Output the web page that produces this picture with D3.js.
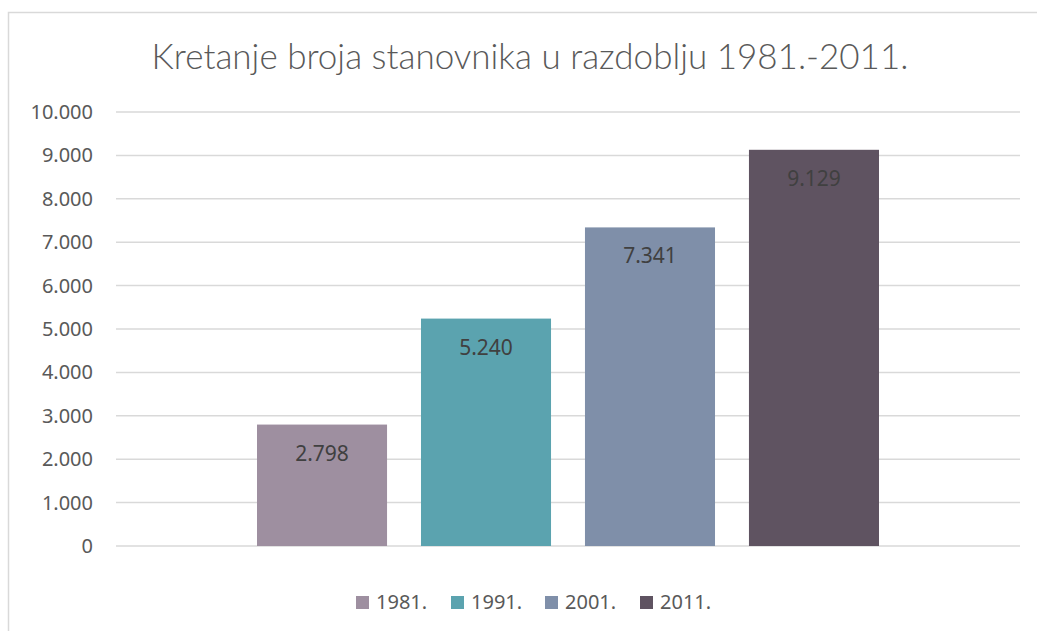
<!DOCTYPE html>
<html>
<head>
<meta charset="utf-8">
<script src="https://cdn.jsdelivr.net/npm/d3@7"></script>
<style>
  body { margin: 0; background: #fff; }
  text { font-family: "Noto Sans", sans-serif; }
</style>
</head>
<body>
<script>
// data
var years = ["1981.", "1991.", "2001.", "2011."];
var population = [2798, 5240, 7341, 9129];
var colors = ["#9e8fa0", "#5ba3af", "#7f8fa9", "#5f5361"];
var yTicks = [0, 1000, 2000, 3000, 4000, 5000, 6000, 7000, 8000, 9000, 10000];

var width = 1037, height = 631;
var margin = {left: 116, right: 17, top: 112, bottom: 85};
var plotW = width - margin.left - margin.right;
var plotH = height - margin.top - margin.bottom;

var fmt = function(v) { return d3.format(",")(v).replace(/,/g, "."); };

var svg = d3.select("body").append("svg")
    .attr("width", width)
    .attr("height", height);

// chart border (cut off at right and bottom)
svg.append("rect")
    .attr("x", 8.5).attr("y", 12.5)
    .attr("width", 1100).attr("height", 700)
    .attr("fill", "none")
    .attr("stroke", "#d9d9d9")
    .attr("stroke-width", 1.5);

// title
svg.append("text")
    .attr("x", 530)
    .attr("y", 69)
    .attr("text-anchor", "middle")
    .style("font-family", "Lato, sans-serif")
    .style("font-weight", 300)
    .style("font-size", "35px")
    .attr("fill", "#595959")
    .text("Kretanje broja stanovnika u razdoblju 1981.-2011.");

var g = svg.append("g")
    .attr("transform", "translate(" + margin.left + "," + margin.top + ")");

var y = d3.scaleLinear().domain([0, 10000]).range([plotH, 0]);

// one category, four series inside it
var x0 = d3.scaleBand().domain(["all"]).range([0, plotW]).paddingOuter(0.2267).paddingInner(0);
var x1 = d3.scaleBand().domain(years).range([0, x0.bandwidth()]).paddingInner(0.207).paddingOuter(0);

// gridlines
g.selectAll(".grid")
    .data(yTicks)
    .enter().append("line")
    .attr("x1", 0).attr("x2", plotW)
    .attr("y1", function(d) { return y(d); })
    .attr("y2", function(d) { return y(d); })
    .attr("stroke", "#d9d9d9")
    .attr("stroke-width", 1.5);

// y axis labels
var yAxis = d3.axisLeft(y).tickValues(yTicks).tickFormat(fmt).tickSize(0).tickPadding(23);
var ya = g.append("g").call(yAxis);
ya.select(".domain").remove();
ya.selectAll("text")
    .style("font-family", "Noto Sans, sans-serif")
    .style("font-size", "20px")
    .attr("fill", "#595959");

var rows = years.map(function(d, i) { return {year: d, value: population[i], color: colors[i]}; });

// bars
g.selectAll(".bar")
    .data(rows)
    .enter().append("rect")
    .attr("x", function(d) { return x0("all") + x1(d.year); })
    .attr("y", function(d) { return y(d.value); })
    .attr("width", x1.bandwidth())
    .attr("height", function(d) { return plotH - y(d.value); })
    .attr("fill", function(d) { return d.color; });

// data labels
g.selectAll(".lbl")
    .data(rows)
    .enter().append("text")
    .attr("x", function(d) { return x0("all") + x1(d.year) + x1.bandwidth() / 2; })
    .attr("y", function(d) { return y(d.value) + 36; })
    .attr("text-anchor", "middle")
    .style("font-family", "Noto Sans, sans-serif")
    .style("font-size", "21px")
    .attr("fill", "#404040")
    .text(function(d) { return fmt(d.value); });

// legend
var legendX = [356, 451, 545, 640];
var legend = svg.selectAll(".legend")
    .data(rows)
    .enter().append("g")
    .attr("transform", function(d, i) { return "translate(" + legendX[i] + ",596)"; });

legend.append("rect")
    .attr("width", 13).attr("height", 13)
    .attr("fill", function(d) { return d.color; });

legend.append("text")
    .attr("x", 20)
    .attr("y", 13)
    .style("font-family", "Noto Sans, sans-serif")
    .style("font-size", "20px")
    .attr("fill", "#595959")
    .text(function(d) { return d.year; });
</script>
</body>
</html>
